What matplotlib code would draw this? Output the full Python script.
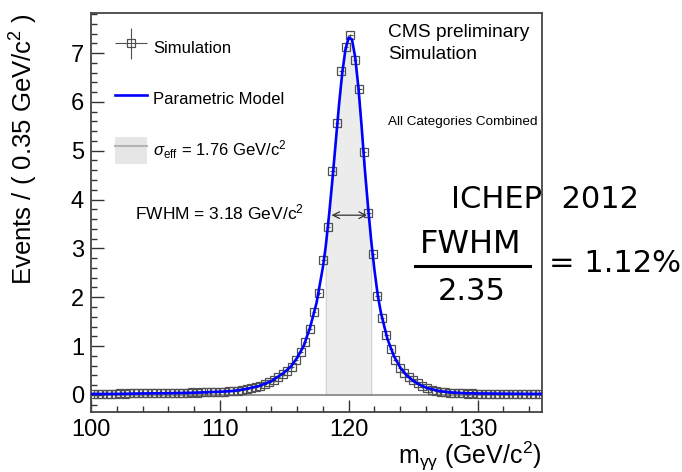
import numpy as np
import matplotlib
matplotlib.use("Agg")
import matplotlib.pyplot as plt
from matplotlib.lines import Line2D
from matplotlib.patches import Patch
from matplotlib.legend_handler import HandlerErrorbar
import matplotlib.ticker as ticker

plt.rcParams['font.family'] = ['Liberation Sans', 'DejaVu Sans']
plt.rcParams['mathtext.fontset'] = 'custom'
plt.rcParams['mathtext.rm'] = 'Liberation Sans'
plt.rcParams['mathtext.it'] = 'Liberation Sans:italic'

# simulated m_gg histogram, 0.35 GeV bins from 100 to 135
bin_lo = 100.0
bin_w = 0.35
sim_y = [0.02, 0.02, 0.02, 0.02, 0.02, 0.02, 0.03, 0.02, 0.03, 0.03,
         0.03, 0.03, 0.03, 0.03, 0.03, 0.03, 0.04, 0.03, 0.04, 0.04,
         0.04, 0.04, 0.05, 0.04, 0.05, 0.05, 0.05, 0.06, 0.06, 0.06,
         0.07, 0.08, 0.09, 0.10, 0.12, 0.14, 0.16, 0.19, 0.22, 0.26,
         0.30, 0.36, 0.42, 0.48, 0.58, 0.72, 0.88, 1.08, 1.35, 1.70,
         2.08, 2.77, 3.44, 4.59, 5.57, 6.63, 7.12, 7.36, 6.86, 6.27,
         4.98, 3.72, 2.88, 2.02, 1.57, 1.23, 0.95, 0.72, 0.56, 0.45,
         0.37, 0.30, 0.24, 0.18, 0.14, 0.11, 0.08, 0.06, 0.05, 0.04,
         0.03, 0.03, 0.03, 0.02, 0.03, 0.02, 0.02, 0.02, 0.02, 0.02,
         0.02, 0.02, 0.02, 0.02, 0.02, 0.02, 0.02, 0.02, 0.02, 0.02]
sim_err = 0.03

# parametric model curve
model_x = [100, 102, 104, 106, 108, 110, 111, 112, 113, 114, 115, 115.5,
           116, 116.5, 117, 117.5, 118, 118.22, 118.5, 118.75, 119, 119.25,
           119.5, 119.75, 120, 120.25, 120.5, 120.75, 121, 121.25, 121.5,
           121.74, 122, 122.25, 122.5, 123, 123.5, 124, 124.5, 125, 125.5,
           126, 127, 128, 129, 130, 132, 135]
model_y = [0.02, 0.02, 0.03, 0.035, 0.045, 0.065, 0.08, 0.12, 0.18, 0.28,
           0.46, 0.58, 0.76, 1.0, 1.38, 1.88, 2.62, 3.05, 3.75, 4.45, 5.2,
           5.95, 6.6, 7.08, 7.32, 7.28, 6.92, 6.3, 5.5, 4.62, 3.85, 3.17,
           2.55, 2.05, 1.68, 1.15, 0.8, 0.56, 0.4, 0.29, 0.21, 0.15, 0.08,
           0.05, 0.035, 0.03, 0.025, 0.02]

sigma_eff_lo = 118.22
sigma_eff_hi = 121.74
fwhm_lo = 118.45
fwhm_hi = 121.63
half_max = 3.68

sim_x = bin_lo + bin_w / 2 + bin_w * np.arange(len(sim_y))
mx = np.array(model_x)
my = np.array(model_y)

fig = plt.figure(figsize=(6.82, 4.72), dpi=100)
ax = fig.add_axes([91/682, 1-412/472, 451/682, 399/472])

ax.axhline(0, color='#8c8c8c', lw=1.3, zorder=1)

sel = (mx >= sigma_eff_lo) & (mx <= sigma_eff_hi)
ax.fill_between(mx[sel], 0, my[sel], color='#ececec', edgecolor='#d0d0d0',
                lw=0.8, zorder=0)

sim = ax.errorbar(sim_x, sim_y, xerr=bin_w/2, yerr=sim_err, fmt='s',
                  ms=5.4, mfc='none', mec='#505050', mew=0.9,
                  ecolor='#505050', elinewidth=0.8, zorder=3)
ax.plot(mx, my, color='#0000ff', lw=1.9, zorder=4)

ax.annotate('', xy=(fwhm_lo, half_max), xytext=(fwhm_hi, half_max),
            arrowprops=dict(arrowstyle='<->', color='#333333', lw=0.9,
                            mutation_scale=12), zorder=5)

ax.set_xlim(100, 135)
ax.set_ylim(-0.35, 7.82)
ax.xaxis.set_major_locator(ticker.MultipleLocator(10))
ax.xaxis.set_minor_locator(ticker.MultipleLocator(2))
ax.yaxis.set_major_locator(ticker.MultipleLocator(1))
ax.yaxis.set_minor_locator(ticker.MultipleLocator(0.2))
ax.tick_params(which='both', direction='in', top=False, right=False,
               labelsize=17, width=1, color='#333333')
ax.tick_params(which='major', length=9, pad=5)
ax.tick_params(which='minor', length=4.5)
for s in ax.spines.values():
    s.set_color('#444444')
    s.set_linewidth(1.3)

ax.set_ylabel('Events / ( 0.35 GeV/c$^{2}$ )', fontsize=18.5, loc='top', labelpad=22)
ax.set_xlabel(r'm$_{\mathrm{\gamma\gamma}}$ (GeV/c$^{2}$)', fontsize=18, loc='right', labelpad=-1)

# legend
h_sim = sim
h_model = Line2D([], [], color='#0000ff', lw=1.9)
h_eff = (Patch(facecolor='#e6e6e6', edgecolor='none'),
         Line2D([], [], color='#b4b4b4', lw=1.5))
leg = ax.legend([h_sim, h_model, h_eff],
                ['Simulation', 'Parametric Model',
                 r'$\sigma_{\rm eff}$ = 1.76 GeV/c$^{2}$'],
                loc='upper left', bbox_to_anchor=(0.053, 0.947),
                frameon=False, fontsize=12, borderpad=0, borderaxespad=0,
                handlelength=1.9, handleheight=2.1, handletextpad=0.4,
                labelspacing=1.47,
                handler_map={type(sim): HandlerErrorbar(xerr_size=0.95)})

ax.text(0.659, 0.95, 'CMS preliminary', transform=ax.transAxes,
        fontsize=13.8, va='center', ha='left')
ax.text(0.659, 0.895, 'Simulation', transform=ax.transAxes,
        fontsize=13.8, va='center', ha='left')
ax.text(0.659, 0.727, 'All Categories Combined', transform=ax.transAxes,
        fontsize=9.7, va='center', ha='left')
ax.text(0.0976, 0.499, 'FWHM = 3.18 GeV/c$^{2}$', transform=ax.transAxes,
        fontsize=12.5, va='center', ha='left')

# ICHEP annotation
fig.text(545/682, 1-200/472, 'ICHEP  2012', fontsize=22, ha='center',
         va='center', family='DejaVu Sans', zorder=10)
fig.text(471/682, 1-245/472, 'FWHM', fontsize=23, ha='center',
         va='center', family='DejaVu Sans', zorder=10)
fig.text(472/682, 1-292/472, '2.35', fontsize=22, ha='center',
         va='center', family='DejaVu Sans', zorder=10)
fig.text(615/682, 1-263/472, '= 1.12%', fontsize=22, ha='center',
         va='center', family='DejaVu Sans', zorder=10)
fig.add_artist(Line2D([415/682, 530/682], [1-266/472, 1-266/472],
                      color='black', lw=2.2, zorder=10))

fig.savefig('out.png', dpi=100)
